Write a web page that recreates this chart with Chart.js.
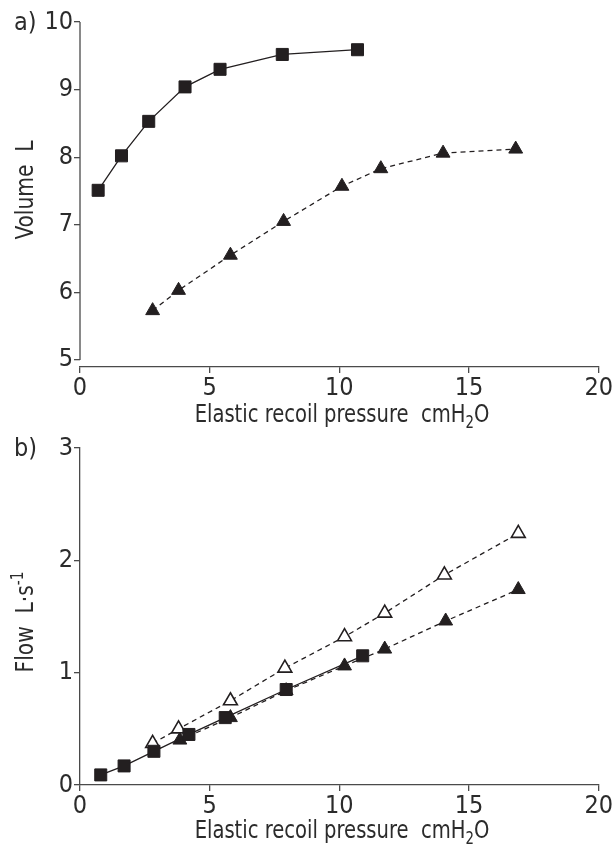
<!DOCTYPE html>
<html>
<head>
<meta charset="utf-8">
<script src="https://cdn.jsdelivr.net/npm/chart.js@4.4.0/dist/chart.umd.min.js"></script>
<style>
  html, body { margin: 0; padding: 0; background: #fff; }
  #page { position: relative; width: 613px; height: 850px; overflow: hidden; }
  canvas { position: absolute; left: 0; }
</style>
</head>
<body>
<div id="page">
  <canvas id="chartA" width="613" height="440" style="top:0"></canvas>
  <canvas id="chartB" width="613" height="440" style="top:410px"></canvas>
</div>
<script>
// a) volume vs elastic recoil pressure
const aSquareX = [0.7, 1.6, 2.65, 4.05, 5.4, 7.8, 10.7];
const aSquareY = [7.51, 8.02, 8.53, 9.04, 9.30, 9.52, 9.59];
const aTriangleX = [2.8, 3.8, 5.8, 7.85, 10.1, 11.6, 14.0, 16.8];
const aTriangleY = [5.73, 6.03, 6.55, 7.05, 7.57, 7.83, 8.06, 8.12];

// b) flow vs elastic recoil pressure
const bSquareX = [0.8, 1.7, 2.85, 4.2, 5.6, 7.95, 10.9];
const bSquareY = [0.09, 0.17, 0.30, 0.45, 0.60, 0.85, 1.15];
const bFilledX = [3.85, 5.8, 7.95, 10.2, 11.75, 14.1, 16.9];
const bFilledY = [0.40, 0.60, 0.84, 1.06, 1.21, 1.46, 1.74];
const bOpenX = [2.8, 3.8, 5.8, 7.9, 10.2, 11.75, 14.05, 16.9];
const bOpenY = [0.37, 0.50, 0.75, 1.04, 1.32, 1.53, 1.87, 2.24];

// tick labels
const xTicks = [0, 5, 10, 15, 20];
const aYTicks = [5, 6, 7, 8, 9, 10];
const bYTicks = [0, 1, 2, 3];

const FONT = '"Liberation Sans Narrow", "DejaVu Sans Condensed", "Liberation Sans", sans-serif';
const INK = '#231f20';
const TEXT = '#2b2b2b';
const AXIS = '#4a4a4a';

const pts = (xs, ys) => xs.map((x, i) => ({ x: x, y: ys[i] }));

function squares(data) {
  return {
    data: data, pointStyle: 'rect', pointRadius: 8.5, pointHoverRadius: 8.5,
    pointBackgroundColor: INK, pointBorderColor: INK, pointBorderWidth: 1,
    borderColor: INK, borderWidth: 1.3, fill: false, tension: 0
  };
}

function triangles(data, open) {
  return {
    data: data, pointStyle: 'triangle', pointRadius: 8, pointHoverRadius: 8,
    pointBackgroundColor: open ? '#fff' : INK, pointBorderColor: INK,
    pointBorderWidth: open ? 1.6 : 1,
    borderColor: INK, borderWidth: 1.3, borderDash: [5, 4], fill: false, tension: 0
  };
}

// parts: [text, size, baseline shift]; squeezed a little to look condensed
function drawParts(ctx, parts, cx, baseline, squeeze) {
  ctx.save();
  ctx.translate(cx, baseline);
  ctx.scale(squeeze, 1);
  let total = 0;
  parts.forEach(p => { ctx.font = p[1] + 'px ' + FONT; total += ctx.measureText(p[0]).width; });
  let x = -total / 2;
  ctx.textAlign = 'left';
  ctx.textBaseline = 'alphabetic';
  parts.forEach(p => {
    ctx.font = p[1] + 'px ' + FONT;
    ctx.fillText(p[0], x, p[2]);
    x += ctx.measureText(p[0]).width;
  });
  ctx.restore();
}

// panel letter, axis titles with sub/superscripts, detached y axis line
function figureText(cfg) {
  return {
    id: 'figureText',
    afterDraw(chart) {
      const ctx = chart.ctx;
      ctx.save();
      ctx.fillStyle = TEXT;
      ctx.font = '25px ' + FONT;
      ctx.textAlign = 'left';
      ctx.textBaseline = 'alphabetic';
      ctx.fillText(cfg.panel, cfg.panelX, cfg.panelY);
      drawParts(ctx, cfg.xTitle, cfg.xTitleX, cfg.xTitleY, 0.87);
      if (cfg.yLine) {
        const y = chart.scales.y;
        ctx.strokeStyle = AXIS;
        ctx.lineWidth = 1.3;
        ctx.beginPath();
        ctx.moveTo(chart.chartArea.left, y.getPixelForValue(cfg.yLine[0]));
        ctx.lineTo(chart.chartArea.left, y.getPixelForValue(cfg.yLine[1]));
        ctx.stroke();
      }
      ctx.translate(cfg.yTitleX, cfg.yTitleY);
      ctx.rotate(-Math.PI / 2);
      drawParts(ctx, cfg.yTitle, 0, 0, 0.9);
      ctx.restore();
    }
  };
}

function xScale(height) {
  return {
    type: 'linear', min: 0, max: 20,
    afterBuildTicks: s => { s.ticks = xTicks.map(v => ({ value: v })); },
    afterFit: s => { s.height = height; },
    grid: { drawOnChartArea: false, drawTicks: true, tickLength: 6, color: AXIS, lineWidth: 1.3 },
    border: { display: true, color: AXIS, width: 1.3 },
    ticks: { font: { family: FONT, size: 25 }, color: TEXT, padding: 0, maxRotation: 0 }
  };
}

function yScale(min, max, ticks, border) {
  return {
    type: 'linear', min: min, max: max,
    afterBuildTicks: s => { s.ticks = ticks.map(v => ({ value: v })); },
    afterFit: s => { s.width = 80; },
    grid: { drawOnChartArea: false, drawTicks: true, tickLength: 6, color: AXIS, lineWidth: 1.3 },
    border: { display: border, color: AXIS, width: 1.3 },
    ticks: { font: { family: FONT, size: 25 }, color: TEXT, padding: 1 }
  };
}

const pressureTitle = [['Elastic recoil pressure  cmH', 25, 0], ['2', 17, 6], ['O', 25, 0]];

function options(padTop, xHeight, yScaleCfg) {
  return {
    responsive: false,
    animation: false,
    devicePixelRatio: 1,
    events: [],
    layout: { padding: { top: padTop, right: 13, left: 0, bottom: 0 } },
    scales: { x: xScale(xHeight), y: yScaleCfg },
    plugins: { legend: { display: false }, tooltip: { enabled: false } }
  };
}

new Chart(document.getElementById('chartA'), {
  type: 'line',
  data: {
    datasets: [
      squares(pts(aSquareX, aSquareY)),
      triangles(pts(aTriangleX, aTriangleY), false)
    ]
  },
  options: options(22, 440 - 367, yScale(4.896, 10, aYTicks, false)),
  plugins: [figureText({
    panel: 'a)', panelX: 14, panelY: 30,
    xTitle: pressureTitle, xTitleX: 342, xTitleY: 422,
    yTitle: [['Volume  L', 25, 0]], yTitleX: 33, yTitleY: 190,
    yLine: [10, 5]
  })]
});

new Chart(document.getElementById('chartB'), {
  type: 'line',
  data: {
    datasets: [
      squares(pts(bSquareX, bSquareY)),
      triangles(pts(bFilledX, bFilledY), false),
      triangles(pts(bOpenX, bOpenY), true)
    ]
  },
  options: options(38, 440 - 375, yScale(0, 3, bYTicks, true)),
  plugins: [figureText({
    panel: 'b)', panelX: 14, panelY: 46,
    xTitle: pressureTitle, xTitleX: 342, xTitleY: 428,
    yTitle: [['Flow  L\u00b7s', 25, 0], ['-1', 17, -10]], yTitleX: 33, yTitleY: 212
  })]
});
</script>
</body>
</html>
